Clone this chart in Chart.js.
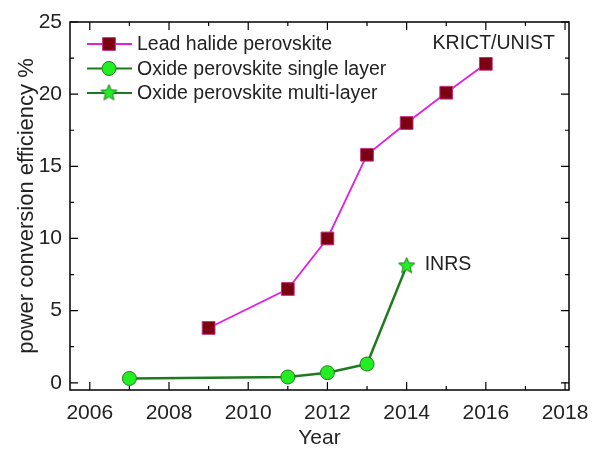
<!DOCTYPE html>
<html>
<head>
<meta charset="utf-8">
<script src="https://cdn.jsdelivr.net/npm/chart.js@4"></script>
<style>
  html, body { margin: 0; padding: 0; background: #fff; }
  #wrap { width: 593px; height: 449px; }
</style>
</head>
<body>
<div id="wrap"><canvas id="pce"></canvas></div>
<script>
// values
const leadYears = [2009, 2011, 2012, 2013, 2014, 2015, 2016];
const leadPCE = [3.8, 6.5, 10.0, 15.8, 18.0, 20.1, 22.1];
const singleYears = [2007, 2011, 2012, 2013];
const singlePCE = [0.3, 0.4, 0.7, 1.3];
const multiYears = [2014];
const multiPCE = [8.1];
const xTicks = [2006, 2008, 2010, 2012, 2014, 2016, 2018];
const yTicks = [0, 5, 10, 15, 20, 25];

const font = "'Liberation Sans', Arial, sans-serif";
const ink = "#222";
const darkGreen = "#1f7a1f";
const lime = "#22ee22";

function pts(xs, ys) {
  return xs.map((x, i) => ({ x: x, y: ys[i] }));
}

// filled five-point star used as a point image
function makeStar(r) {
  const c = document.createElement("canvas");
  const s = Math.ceil(r * 2 + 4);
  c.width = s; c.height = s;
  const g = c.getContext("2d");
  g.beginPath();
  for (let i = 0; i < 10; i++) {
    const rad = i % 2 === 0 ? r : r * 0.45;
    const ang = -Math.PI / 2 + i * Math.PI / 5;
    const px = s / 2 + rad * Math.cos(ang), py = s / 2 + rad * Math.sin(ang);
    if (i === 0) g.moveTo(px, py); else g.lineTo(px, py);
  }
  g.closePath();
  g.fillStyle = lime;
  g.fill();
  g.strokeStyle = darkGreen;
  g.lineWidth = 1;
  g.stroke();
  return c;
}
const star = makeStar(8.5);

// multi-layer series is joined to the last single-layer point
const lastSingle = { x: singleYears[singleYears.length - 1], y: singlePCE[singlePCE.length - 1] };
const multiData = [lastSingle].concat(pts(multiYears, multiPCE));

const frame = {
  id: "frame",
  afterDraw(chart) {
    const { ctx, chartArea: a, scales } = chart;
    const xs = scales.x, ys = scales.y;
    ctx.save();
    ctx.strokeStyle = "#000";
    ctx.lineWidth = 1.5;
    ctx.strokeRect(a.left, a.top, a.right - a.left, a.bottom - a.top);
    ctx.lineWidth = 1.2;
    ctx.beginPath();
    for (let v = 2006; v <= 2018; v++) {
      const px = xs.getPixelForValue(v);
      const len = v % 2 === 0 ? 8 : 4;
      ctx.moveTo(px, a.bottom); ctx.lineTo(px, a.bottom - len);
      ctx.moveTo(px, a.top); ctx.lineTo(px, a.top + len);
    }
    for (let v = 0; v <= 25; v += 2.5) {
      const py = ys.getPixelForValue(v);
      const len = v % 5 === 0 ? 8 : 4;
      ctx.moveTo(a.left, py); ctx.lineTo(a.left + len, py);
      ctx.moveTo(a.right, py); ctx.lineTo(a.right - len, py);
    }
    ctx.stroke();

    // legend: line - marker - line
    ctx.font = "19.5px " + font;
    ctx.textBaseline = "middle";
    chart.data.datasets.forEach((ds, i) => {
      const y = a.top + 22 + i * 24.5;
      const x0 = a.left + 17;
      ctx.strokeStyle = ds.borderColor;
      ctx.lineWidth = 2;
      ctx.beginPath();
      ctx.moveTo(x0, y); ctx.lineTo(x0 + 45, y);
      ctx.stroke();
      ctx.fillStyle = ds.pointBackgroundColor;
      ctx.strokeStyle = ds.pointBorderColor;
      ctx.lineWidth = 1;
      Chart.helpers.drawPoint(ctx, { pointStyle: ds.pointStyle, radius: ds.legendRadius, borderWidth: 1, rotation: 0 }, x0 + 22, y);
      ctx.fillStyle = ink;
      ctx.fillText(ds.label, x0 + 50, y + 1);
    });

    // annotations
    ctx.fillStyle = ink;
    ctx.textAlign = "right";
    ctx.fillText("KRICT/UNIST", a.right - 14, a.top + 22);
    ctx.textAlign = "left";
    ctx.fillText("INRS", xs.getPixelForValue(2014) + 18, ys.getPixelForValue(8.1) - 1);
    ctx.restore();
  }
};

new Chart(document.getElementById("pce"), {
  type: "line",
  data: {
    datasets: [{
      label: "Lead halide perovskite",
      data: pts(leadYears, leadPCE),
      borderColor: "#dd22dd",
      borderWidth: 1.8,
      pointStyle: "rect",
      pointRadius: 9,
      pointBackgroundColor: "#7d0012",
      pointBorderColor: "#c0307a",
      pointBorderWidth: 1,
      legendRadius: 9
    }, {
      label: "Oxide perovskite single layer",
      data: pts(singleYears, singlePCE),
      borderColor: darkGreen,
      borderWidth: 2.5,
      pointStyle: "circle",
      pointRadius: 7,
      pointBackgroundColor: lime,
      pointBorderColor: darkGreen,
      pointBorderWidth: 1,
      legendRadius: 7
    }, {
      label: "Oxide perovskite multi-layer",
      data: multiData,
      borderColor: darkGreen,
      borderWidth: 2.5,
      pointStyle: star,
      pointRadius: [0, 9],
      pointBackgroundColor: lime,
      pointBorderColor: darkGreen,
      pointBorderWidth: 1,
      legendRadius: 9
    }]
  },
  options: {
    responsive: true,
    maintainAspectRatio: false,
    animation: false,
    layout: { padding: { top: 22, right: 24, left: 0, bottom: 0 } },
    plugins: { legend: { display: false }, tooltip: { enabled: false } },
    elements: { line: { tension: 0 } },
    scales: {
      x: {
        type: "linear",
        min: 2005.5,
        max: 2018.1,
        afterBuildTicks: s => { s.ticks = xTicks.map(v => ({ value: v })); },
        afterFit: s => { s.height = 59; },
        grid: { display: false },
        border: { display: false },
        ticks: { callback: v => String(v), color: ink, font: { family: font, size: 21 }, padding: 3, maxRotation: 0 },
        title: { display: true, text: "Year", color: ink, font: { family: font, size: 21, lineHeight: 1 }, padding: { top: 0, bottom: 0 } }
      },
      y: {
        min: -0.5,
        max: 25,
        afterBuildTicks: s => { s.ticks = yTicks.map(v => ({ value: v })); },
        afterFit: s => { s.width = 70; },
        grid: { display: false },
        border: { display: false },
        ticks: { color: ink, font: { family: font, size: 21 }, padding: 0 },
        title: { display: true, text: "power conversion efficiency %", color: ink, font: { family: font, size: 22 }, padding: { top: 14, bottom: 0 } }
      }
    }
  },
  plugins: [frame]
});
</script>
</body>
</html>
